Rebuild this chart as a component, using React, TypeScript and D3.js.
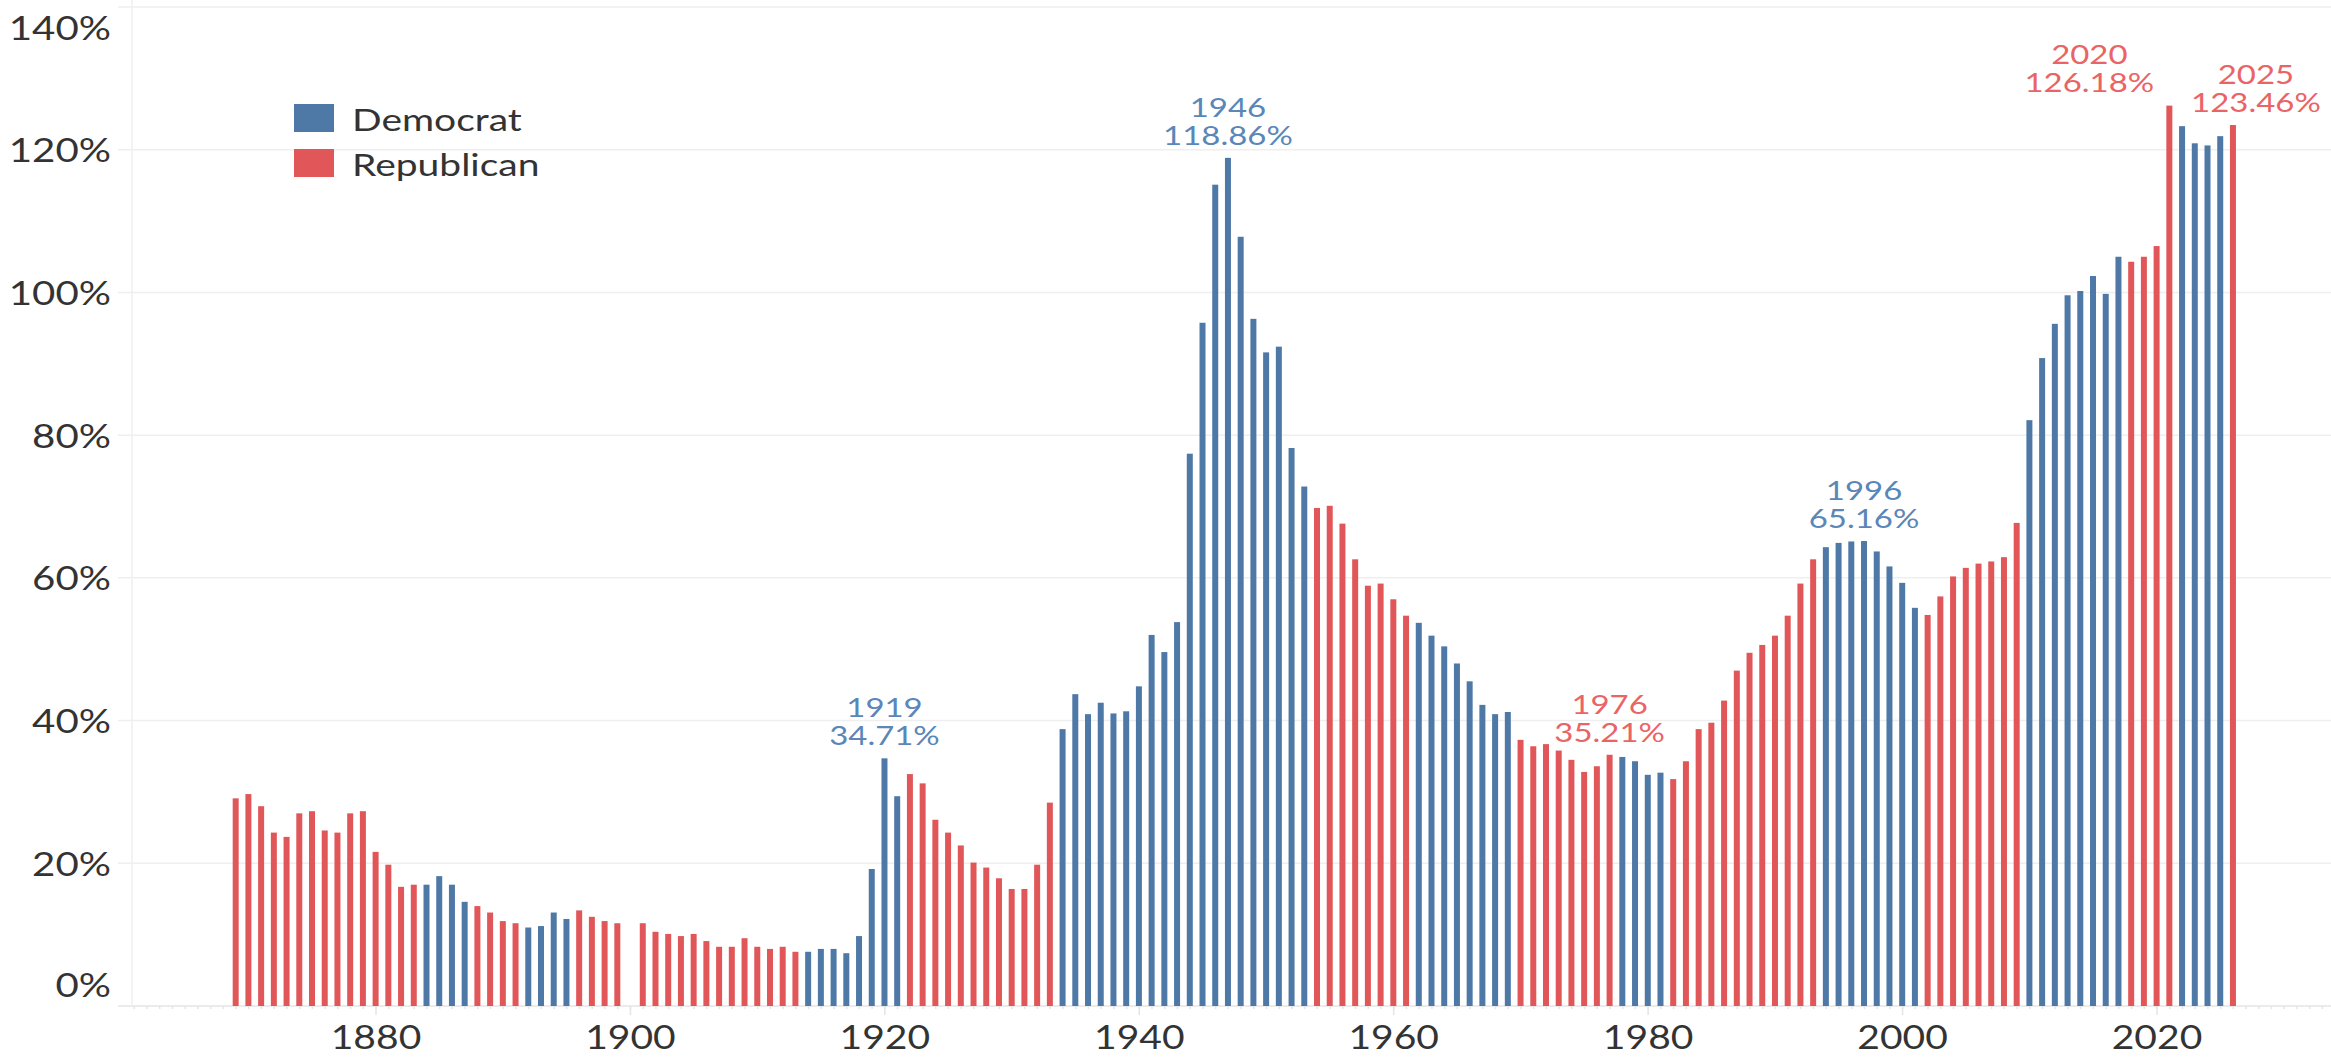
import React, { useEffect } from "react";
import * as d3 from "d3";

// ---------- DATA ----------
const years = [
  1868, 1869, 1870, 1871, 1872, 1873, 1874, 1875, 1876, 1877,
  1878, 1879, 1880, 1881, 1882, 1883, 1884, 1885, 1886, 1887,
  1888, 1889, 1890, 1891, 1892, 1893, 1894, 1895, 1896, 1897, 1898,
  1900, 1901, 1902, 1903, 1904, 1905, 1906, 1907, 1908, 1909,
  1910, 1911, 1912, 1913, 1914, 1915, 1916, 1917, 1918, 1919,
  1920, 1921, 1922, 1923, 1924, 1925, 1926, 1927, 1928, 1929,
  1930, 1931, 1932, 1933, 1934, 1935, 1936, 1937, 1938, 1939,
  1940, 1941, 1942, 1943, 1944, 1945, 1946, 1947, 1948, 1949,
  1950, 1951, 1952, 1953, 1954, 1955, 1956, 1957, 1958, 1959,
  1960, 1961, 1962, 1963, 1964, 1965, 1966, 1967, 1968, 1969,
  1970, 1971, 1972, 1973, 1974, 1975, 1976, 1977, 1978, 1979,
  1980, 1981, 1982, 1983, 1984, 1985, 1986, 1987, 1988, 1989,
  1990, 1991, 1992, 1993, 1994, 1995, 1996, 1997, 1998, 1999,
  2000, 2001, 2002, 2003, 2004, 2005, 2006, 2007, 2008, 2009,
  2010, 2011, 2012, 2013, 2014, 2015, 2016, 2017, 2018, 2019,
  2020, 2021, 2022, 2023, 2024, 2025,
];

const debtPct = [
  29.1, 29.7, 28.0, 24.3, 23.7, 27.0, 27.3, 24.6, 24.3, 27.0,
  27.3, 21.6, 19.8, 16.7, 17.0, 17.0, 18.2, 17.0, 14.6, 14.0,
  13.1, 11.9, 11.6, 11.0, 11.2, 13.1, 12.2, 13.4, 12.5, 11.9, 11.6,
  11.6, 10.4, 10.1, 9.8, 10.1, 9.1, 8.3, 8.3, 9.5, 8.3,
  8.0, 8.3, 7.6, 7.6, 8.0, 8.0, 7.4, 9.8, 19.2, 34.71,
  29.4, 32.5, 31.2, 26.1, 24.3, 22.5, 20.1, 19.4, 17.9, 16.4,
  16.4, 19.8, 28.5, 38.8, 43.7, 40.9, 42.5, 41.0, 41.3, 44.8,
  52.0, 49.6, 53.8, 77.4, 95.75, 115.1, 118.86, 107.8, 96.3, 91.6,
  92.4, 78.2, 72.8, 69.8, 70.1, 67.6, 62.6, 58.9, 59.2, 57.0,
  54.7, 53.7, 51.9, 50.4, 48.0, 45.5, 42.2, 40.9, 41.2, 37.3,
  36.4, 36.7, 35.8, 34.5, 32.8, 33.6, 35.21, 34.9, 34.3, 32.4,
  32.7, 31.8, 34.3, 38.8, 39.7, 42.8, 47.0, 49.5, 50.6, 51.9,
  54.7, 59.2, 62.6, 64.3, 64.9, 65.1, 65.16, 63.7, 61.6, 59.3,
  55.8, 54.8, 57.4, 60.2, 61.4, 62.0, 62.3, 62.9, 67.7, 82.1,
  90.8, 95.6, 99.6, 100.2, 102.3, 99.8, 105.0, 104.3, 105.0, 106.5,
  126.18, 123.3, 120.9, 120.6, 121.9, 123.46,
];

const party = [
  "R", "R", "R", "R", "R", "R", "R", "R", "R", "R",
  "R", "R", "R", "R", "R", "D", "D", "D", "D", "R",
  "R", "R", "R", "D", "D", "D", "D", "R", "R", "R", "R",
  "R", "R", "R", "R", "R", "R", "R", "R", "R", "R",
  "R", "R", "R", "D", "D", "D", "D", "D", "D", "D",
  "D", "R", "R", "R", "R", "R", "R", "R", "R", "R",
  "R", "R", "R", "D", "D", "D", "D", "D", "D", "D",
  "D", "D", "D", "D", "D", "D", "D", "D", "D", "D",
  "D", "D", "D", "R", "R", "R", "R", "R", "R", "R",
  "R", "D", "D", "D", "D", "D", "D", "D", "D", "R",
  "R", "R", "R", "R", "R", "R", "R", "D", "D", "D",
  "D", "R", "R", "R", "R", "R", "R", "R", "R", "R",
  "R", "R", "R", "D", "D", "D", "D", "D", "D", "D",
  "D", "R", "R", "R", "R", "R", "R", "R", "R", "D",
  "D", "D", "D", "D", "D", "D", "D", "R", "R", "R",
  "R", "D", "D", "D", "D", "R",
];

const yTicks = [0, 20, 40, 60, 80, 100, 120, 140];
const xTicks = [1880, 1900, 1920, 1940, 1960, 1980, 2000, 2020];
const legendLabels = ["Democrat", "Republican"];
const legendParties = ["D", "R"];
const annotatedYears = [1919, 1946, 1976, 1996, 2020, 2025];
const annotationShift = [0, 0, 0, 0, -80, 23];

// ---------- STYLE ----------
const W = 2331;
const H = 1059;
const COLORS: Record<string, string> = { D: "#4e79a7", R: "#e15759" };
const TEXT_COLORS: Record<string, string> = { D: "#5a86b8", R: "#ea6466" };
const FONT = "Lato, 'Open Sans', sans-serif";
const SX = 1.22; // horizontal stretch of the reference's text

function T(props: {
  x: number; y: number; text: string; size: number; fill: string;
  anchor?: "start" | "middle" | "end"; sx?: number;
}) {
  const { x, y, text, size, fill, anchor = "middle", sx = SX } = props;
  return (
    <text
      transform={`translate(${x},${y}) scale(${sx},1)`}
      textAnchor={anchor}
      dominantBaseline="central"
      fontFamily={FONT}
      fontSize={size}
      fill={fill}
    >
      {text}
    </text>
  );
}

export default function App() {
  useEffect(() => {
    document.body.style.margin = "0";
  }, []);

  const plotLeft = 132;
  const x = d3.scaleLinear().domain([1880, 2020]).range([376, 2157]);
  const y = d3.scaleLinear().domain([0, 140]).range([1006, 7]);
  const barOffset = 0.97;
  const barW = 6;
  const minorYears = d3.range(1861, 2034);

  const fmt = (v: number) => `${v}%`;

  return (
    <svg
      width={W}
      height={H}
      style={{ position: "absolute", left: 0, top: 0, background: "#fff" }}
    >
      <rect x={0} y={0} width={W} height={H} fill="#ffffff" />
      {/* gridlines */}
      {yTicks.map((t) => (
        <line
          key={`g${t}`}
          x1={118}
          x2={W}
          y1={y(t)}
          y2={y(t)}
          stroke={t === 0 ? "#e4e4e4" : "#efefef"}
          strokeWidth={1.5}
        />
      ))}
      {/* y axis line */}
      <line x1={plotLeft} x2={plotLeft} y1={0} y2={y(0)} stroke="#efefef" strokeWidth={1.5} />
      {/* minor ticks */}
      {minorYears.map((yr) => (
        <line key={`m${yr}`} x1={x(yr)} x2={x(yr)} y1={y(0)} y2={y(0) + 3} stroke="#e6e6e6" strokeWidth={1.5} />
      ))}
      {/* major x ticks */}
      {xTicks.map((t) => (
        <line key={`t${t}`} x1={x(t)} x2={x(t)} y1={y(0)} y2={y(0) + 9} stroke="#e4e4e4" strokeWidth={1.5} />
      ))}
      {/* bars */}
      {years.map((yr, i) => (
        <rect
          key={yr}
          x={x(yr + barOffset) - barW / 2}
          y={y(debtPct[i])}
          width={barW}
          height={y(0) - y(debtPct[i])}
          fill={COLORS[party[i]]}
        />
      ))}
      {/* y labels */}
      {yTicks.map((t) => (
        <T
          key={`yl${t}`}
          x={111}
          y={Math.min(Math.max(y(t), 27), 984)}
          text={fmt(t)}
          size={33}
          fill="#333333"
          anchor="end"
        />
      ))}
      {/* x labels */}
      {xTicks.map((t) => (
        <T key={`xl${t}`} x={x(t)} y={1037} text={String(t)} size={32} fill="#333333" />
      ))}
      {/* legend */}
      {legendLabels.map((lab, i) => (
        <g key={lab}>
          <rect x={294} y={104 + i * 45} width={40} height={28} fill={COLORS[legendParties[i]]} />
          <T x={352} y={119 + i * 45} text={lab} size={30} fill="#333333" anchor="start" sx={1.3} />
        </g>
      ))}
      {/* annotations */}
      {annotatedYears.map((yr, k) => {
        const i = years.indexOf(yr);
        const v = debtPct[i];
        const cx = x(yr + barOffset) + annotationShift[k];
        const top = y(v);
        const c = TEXT_COLORS[party[i]];
        return (
          <g key={`a${yr}`}>
            <T x={cx} y={top - 52} text={String(yr)} size={27} fill={c} />
            <T x={cx} y={top - 24} text={`${v.toFixed(2)}%`} size={27} fill={c} />
          </g>
        );
      })}
    </svg>
  );
}
